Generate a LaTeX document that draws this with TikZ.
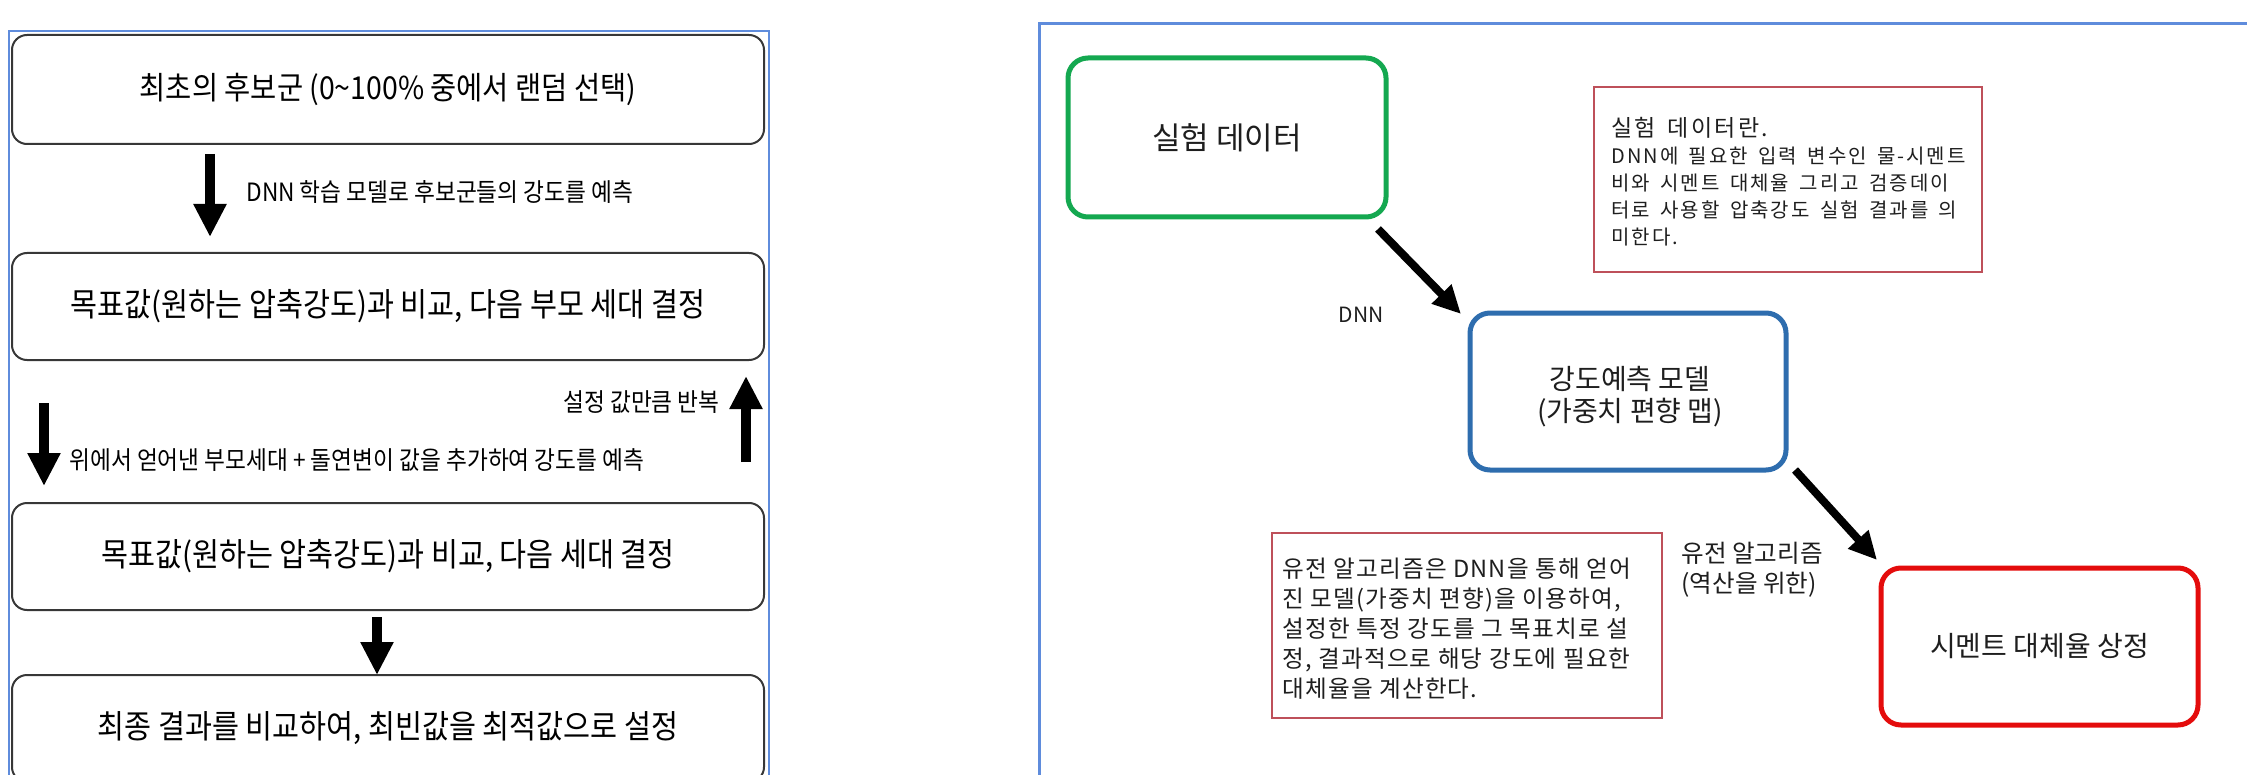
\documentclass[tikz,border=0pt]{standalone}
\usepackage{fontspec}
\usetikzlibrary{arrows.meta}
\newfontfamily\lf[FakeStretch=0.9]{Noto Sans CJK KR}
\newfontfamily\rf{Noto Sans CJK KR}
\newfontfamily\rfa[LetterSpace=10,WordSpace=1.6]{Noto Sans CJK KR}
\newfontfamily\rfb[LetterSpace=5]{Noto Sans CJK KR}
\definecolor{frameblue}{RGB}{95,140,220}
\definecolor{boxgray}{RGB}{55,55,55}
\definecolor{cgreen}{RGB}{20,168,80}
\definecolor{cblue}{RGB}{46,109,174}
\definecolor{cred}{RGB}{228,12,12}
\definecolor{notered}{RGB}{190,80,90}
\definecolor{textdark}{RGB}{30,30,30}
\begin{document}
\begin{tikzpicture}[x=0.5pt,y=-0.5pt,
  lbox/.style={draw=boxgray, line width=1pt, rounded corners=7.5pt, minimum width=376pt,
    inner sep=0pt, font=\lf\fontsize{16.3}{19}\selectfont},
  fat/.style={line width=5pt, -{Triangle[width=15.5pt,length=16.5pt]}},
  llabel/.style={inner sep=0pt, font=\lf\fontsize{12.6}{15}\selectfont},
  cbox/.style={line width=2.5pt, rounded corners=10pt, fill=white, inner sep=0pt, text=textdark, align=center},
  note/.style={draw=notered, line width=0.75pt, inner sep=0pt},
  notetext/.style={inner sep=0pt, align=left, text=textdark, anchor=north west},
  rarrow/.style={line width=4pt, -{Triangle[width=13pt,length=14pt]}}]
\useasboundingbox (0,0) rectangle (2247,775);
\clip (0,0) rectangle (2247,775);
% ---------- left panel ----------
\draw[frameblue, line width=1pt] (9,31) rectangle (769,820);
\node[lbox, minimum height=54.5pt, font=\lf\fontsize{15.8}{19}\selectfont] (b1) at (388,89.5) {최초의 후보군 (0\textasciitilde100\% 중에서 랜덤 선택)};
\node[lbox, minimum height=53.5pt] (b2) at (388,306.5) {목표값(원하는 압축강도)과 비교, 다음 부모 세대 결정};
\node[lbox, minimum height=53.5pt] (b3) at (388,556.5) {목표값(원하는 압축강도)과 비교, 다음 세대 결정};
\node[lbox, minimum height=53.5pt] (b4) at (388,728.5) {최종 결과를 비교하여, 최빈값을 최적값으로 설정};
\coordinate (a1s) at (210,154); \coordinate (a1e) at (210,237);
\draw[fat] (a1s) -- (a1e);
\node[llabel, anchor=west] (l1) at (246,192) {DNN 학습 모델로 후보군들의 강도를 예측};
\coordinate (a2s) at (44,403); \coordinate (a2e) at (44,486);
\draw[fat] (a2s) -- (a2e);
\node[llabel, anchor=west] (l2) at (69,460) {위에서 얻어낸 부모세대 + 돌연변이 값을 추가하여 강도를 예측};
\coordinate (aus) at (746,462); \coordinate (aue) at (746,376);
\draw[fat] (aus) -- (aue);
\node[llabel, anchor=east] (l3) at (720,402) {설정 값만큼 반복};
\coordinate (a3s) at (377,617); \coordinate (a3e) at (377,675);
\draw[fat] (a3s) -- (a3e);
% ---------- right panel ----------
\draw[frameblue, line width=1.5pt] (1039,24) rectangle (2270,820);
\node[cbox, draw=cgreen, minimum width=159pt, minimum height=79.5pt, font=\rf\fontsize{15.5}{19}\selectfont] (data) at (1227,137.5) {실험 데이터};
\node[cbox, draw=cblue, minimum width=158pt, minimum height=78.5pt] (model) at (1628,391.5) {};
\node[inner sep=0pt, align=center, text=textdark, font=\rf\fontsize{14}{16}\selectfont] (modelt) at (1630,397) {강도예측 모델\\(가중치 편향 맵)};
\node[cbox, draw=cred, minimum width=158.5pt, minimum height=78.5pt, font=\rf\fontsize{14}{17}\selectfont] (cement) at (2039.5,646.5) {시멘트 대체율 상정};
\node[note, minimum width=194pt, minimum height=92.5pt] (n1) at (1788,179.5) {};
\node[notetext, font=\rfa\fontsize{10}{13.5}\selectfont] (n1t) at (1611,117)
  {{\fontsize{11.5}{13.5}\selectfont 실험 데이터란.}\\DNN에 필요한 입력 변수인 물-시멘트\\비와 시멘트 대체율 그리고 검증데이\\터로 사용할 압축강도 실험 결과를 의\\미한다.};
\node[note, minimum width=195pt, minimum height=92.5pt] (n2) at (1467,625.5) {};
\node[notetext, font=\rfb\fontsize{11.8}{15}\selectfont] (n2t) at (1282,558)
  {유전 알고리즘은 DNN을 통해 얻어\\진 모델(가중치 편향)을 이용하여,\\설정한 특정 강도를 그 목표치로 설\\정, 결과적으로 해당 강도에 필요한\\대체율을 계산한다.};
\coordinate (r1s) at (1378,229); \coordinate (r1e) at (1461,314);
\draw[rarrow] (r1s) -- (r1e);
\node[inner sep=0pt, text=textdark, font=\rf\fontsize{10.5}{13}\selectfont] (dnn) at (1361,315) {DNN};
\coordinate (r2s) at (1795,470); \coordinate (r2e) at (1877,560);
\draw[rarrow] (r2s) -- (r2e);
\node[notetext, anchor=west, font=\rf\fontsize{12.3}{15}\selectfont] (ga) at (1681,570) {유전 알고리즘\\(역산을 위한)};
\end{tikzpicture}
\end{document}
